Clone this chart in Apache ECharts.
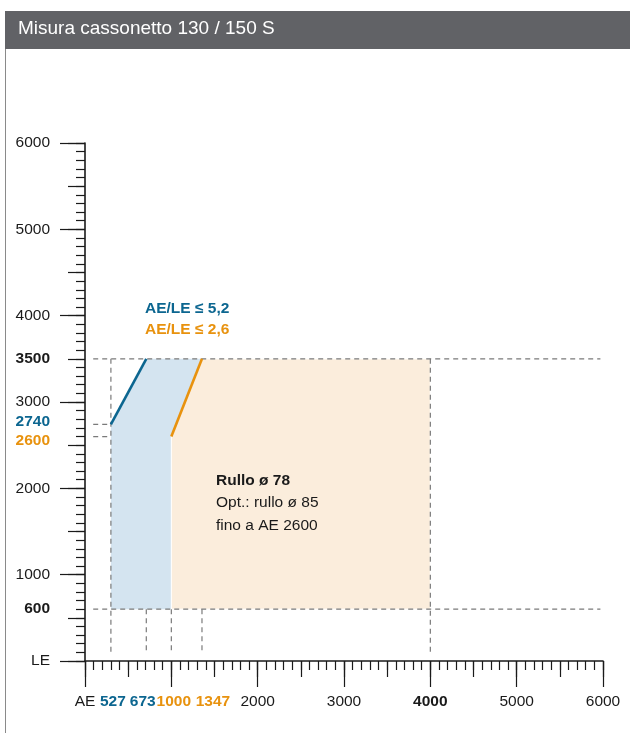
<!DOCTYPE html>
<html><head><meta charset="utf-8">
<script src="https://cdn.jsdelivr.net/npm/echarts@6.0.0/dist/echarts.min.js"></script>
<style>html,body{margin:0;padding:0;background:#fff}#c{width:630px;height:733px}</style>
</head><body><div id="c"></div>
<script>
// ---- data ----
const chartTitle = 'Misura cassonetto 130 / 150 S';
const axisMin = 0, axisMax = 6000;
// AE thresholds as drawn on the AE scale, with their printed values
const aeBreaks = [300, 710, 1000, 1355];
const aeBreakTexts = ['527', '673', '1000', '1347'];
const aeMax = 4000;
// LE values
const leMin = 600, leMax = 3500, leBlueStart = 2740, leOrangeStart = 2600;
// tick labels
const xScaleLabels = [2000, 3000, 4000, 5000, 6000];
const yScaleLabels = [1000, 2000, 3000, 4000, 5000, 6000];
const annotations = {
  blue: 'AE/LE \u2264 5,2',
  orange: 'AE/LE \u2264 2,6',
  roll: 'Rullo \u00f8 78',
  opt1: 'Opt.: rullo \u00f8 85',
  opt2: 'fino a AE 2600'
};

// ---- styles ----
const FONT = "'Liberation Sans', Arial, Helvetica, sans-serif";
const FS = 15.5;
const BLUE = '#0c6690', ORANGE = '#e8920e', INK = '#1a1a1a';
const BLUE_FILL = '#d4e4f0', ORANGE_FILL = '#fbeddc', DASH = '#7a7a7a';

// ---- derived ----
const blueRegion = [
  [aeBreaks[0], leMin], [aeBreaks[0], leBlueStart], [aeBreaks[1], leMax],
  [aeBreaks[3], leMax], [aeBreaks[2], leOrangeStart], [aeBreaks[2], leMin]
];
const orangeRegion = [
  [aeBreaks[2], leMin], [aeBreaks[2], leOrangeStart], [aeBreaks[3], leMax],
  [aeMax, leMax], [aeMax, leMin]
];
const blueEdge = [[aeBreaks[0], leBlueStart], [aeBreaks[1], leMax]];
const orangeEdge = [[aeBreaks[2], leOrangeStart], [aeBreaks[3], leMax]];
const dashStart = 95, dashEnd = 5970, dashBottom = 100;
const dashSegments = [
  [dashStart, leMax, dashEnd, leMax],
  [dashStart, leMin, dashEnd, leMin],
  [dashStart, leBlueStart, aeBreaks[0], leBlueStart],
  [dashStart, leOrangeStart, aeBreaks[0], leOrangeStart],
  [aeBreaks[0], leMax, aeBreaks[0], dashBottom],
  [aeBreaks[1], leMin, aeBreaks[1], dashBottom],
  [aeBreaks[2], leMin, aeBreaks[2], dashBottom],
  [aeBreaks[3], leMin, aeBreaks[3], dashBottom],
  [aeMax, leMax, aeMax, dashBottom]
];

const yLabelValues = [0, leMin, leOrangeStart, leBlueStart, leMax].concat(yScaleLabels);
const yLabelTexts = ['LE', String(leMin), String(leOrangeStart), String(leBlueStart), String(leMax)].concat(yScaleLabels.map(String));
const yLabelStyles = ['n', 'b', 'oDown', 'bUp', 'b'].concat(yScaleLabels.map(() => 'n'));

const xLabelValues = [0].concat(aeBreaks, xScaleLabels);
const xLabelTexts = ['AE'].concat(aeBreakTexts, xScaleLabels.map(String));
const xLabelStyles = ['n', 'b1', 'b2', 'o1', 'o2'].concat(xScaleLabels.map(v => v === aeMax ? 'b' : 'n'));

const tickLine = { color: INK, width: 1.2 };
function tickAxis(interval, len, showLine) {
  return {
    type: 'value', min: axisMin, max: axisMax, interval: interval,
    axisLine: { show: showLine, onZero: false, lineStyle: { color: INK, width: 1.6 } },
    axisTick: { show: true, length: len, lineStyle: tickLine },
    axisLabel: { show: false }, splitLine: { show: false }
  };
}
const baseRich = {
  n: { fontSize: FS, color: INK, fontFamily: FONT },
  b: { fontSize: FS, color: INK, fontWeight: 'bold', fontFamily: FONT }
};
function labelAxis(values, texts, styles, margin, rich) {
  return {
    type: 'value', min: axisMin, max: axisMax,
    axisLine: { show: false, onZero: false }, axisTick: { show: false }, splitLine: { show: false },
    axisLabel: {
      show: true, customValues: values, margin: margin,
      formatter: function (v) {
        const i = values.indexOf(v);
        return i < 0 ? '' : '{' + styles[i] + '|' + texts[i] + '}';
      },
      rich: Object.assign({}, baseRich, rich)
    }
  };
}

const xAxes = [tickAxis(100, 9, true), tickAxis(500, 16, false), tickAxis(1000, 26, false),
  labelAxis(xLabelValues, xLabelTexts, xLabelStyles, 33, {
    b1: { fontSize: FS, color: BLUE, fontWeight: 'bold', fontFamily: FONT, padding: [0, 0, 0, 4] },
    b2: { fontSize: FS, color: BLUE, fontWeight: 'bold', fontFamily: FONT, padding: [0, 7, 0, 0] },
    o1: { fontSize: FS, color: ORANGE, fontWeight: 'bold', fontFamily: FONT, padding: [0, 0, 0, 5] },
    o2: { fontSize: FS, color: ORANGE, fontWeight: 'bold', fontFamily: FONT, padding: [0, 0, 0, 22] }
  })].map(a => Object.assign(a, { position: 'bottom', offset: 0 }));
const yAxes = [tickAxis(100, 9, true), tickAxis(500, 17, false), tickAxis(1000, 25, false),
  labelAxis(yLabelValues, yLabelTexts, yLabelStyles, 35, {
    bUp: { fontSize: FS, color: BLUE, fontWeight: 'bold', fontFamily: FONT, padding: [0, 0, 5, 0] },
    oDown: { fontSize: FS, color: ORANGE, fontWeight: 'bold', fontFamily: FONT, padding: [8, 0, 0, 0] }
  })].map(a => Object.assign(a, { position: 'left', offset: 0 }));

function polygonSeries(points, fill, stroke, z) {
  return {
    type: 'custom', xAxisIndex: 0, yAxisIndex: 0, z: z, silent: true, clip: false,
    data: points,
    renderItem: function (params, api) {
      if (params.dataIndex !== 0) return null;
      return {
        type: 'polygon',
        shape: { points: points.map(p => api.coord(p)) },
        style: { fill: fill, stroke: stroke, lineWidth: stroke ? 1 : 0 }
      };
    }
  };
}

const chart = echarts.init(document.getElementById('c'), null, { renderer: 'canvas' });
chart.setOption({
  animation: false,
  backgroundColor: '#ffffff',
  textStyle: { fontFamily: FONT },
  grid: { left: 85, right: 27, top: 143, bottom: 72, containLabel: false },
  xAxis: xAxes,
  yAxis: yAxes,
  graphic: [
    { type: 'rect', left: 5, top: 11, shape: { width: 625, height: 38 }, style: { fill: '#616266' }, z: 10 },
    { type: 'text', left: 18, top: 19, style: { text: chartTitle, fill: '#ffffff', font: '19px ' + FONT }, z: 11 },
    { type: 'line', shape: { x1: 5.5, y1: 49, x2: 5.5, y2: 733 }, style: { stroke: '#8a8a8a', lineWidth: 1 }, z: 10 },
    { type: 'text', left: 145, top: 301, style: { text: annotations.blue, fill: BLUE, font: 'bold 15.5px ' + FONT }, z: 11 },
    { type: 'text', left: 145, top: 322, style: { text: annotations.orange, fill: ORANGE, font: 'bold 15.5px ' + FONT }, z: 11 },
    { type: 'text', left: 216, top: 473, style: { text: annotations.roll, fill: INK, font: 'bold 15.5px ' + FONT }, z: 11 },
    { type: 'text', left: 216, top: 495, style: { text: annotations.opt1, fill: INK, font: '15.5px ' + FONT }, z: 11 },
    { type: 'text', left: 216, top: 518, style: { text: annotations.opt2, fill: INK, font: '15.5px ' + FONT }, z: 11 }
  ],
  series: [
    polygonSeries(blueRegion, BLUE_FILL, null, 1),
    polygonSeries(orangeRegion, ORANGE_FILL, '#ffffff', 2),
    {
      type: 'custom', xAxisIndex: 0, yAxisIndex: 0, z: 3, silent: true, clip: false,
      data: dashSegments,
      renderItem: function (params, api) {
        const p1 = api.coord([api.value(0), api.value(1)]);
        const p2 = api.coord([api.value(2), api.value(3)]);
        return { type: 'line', shape: { x1: p1[0], y1: p1[1], x2: p2[0], y2: p2[1] },
          style: { stroke: DASH, lineWidth: 1.2, lineDash: [5, 4] } };
      }
    },
    { type: 'line', xAxisIndex: 0, yAxisIndex: 0, z: 4, data: blueEdge, symbol: 'none', silent: true,
      lineStyle: { color: BLUE, width: 2.6 } },
    { type: 'line', xAxisIndex: 0, yAxisIndex: 0, z: 4, data: orangeEdge, symbol: 'none', silent: true,
      lineStyle: { color: ORANGE, width: 2.6 } }
  ]
});
</script>
</body></html>
